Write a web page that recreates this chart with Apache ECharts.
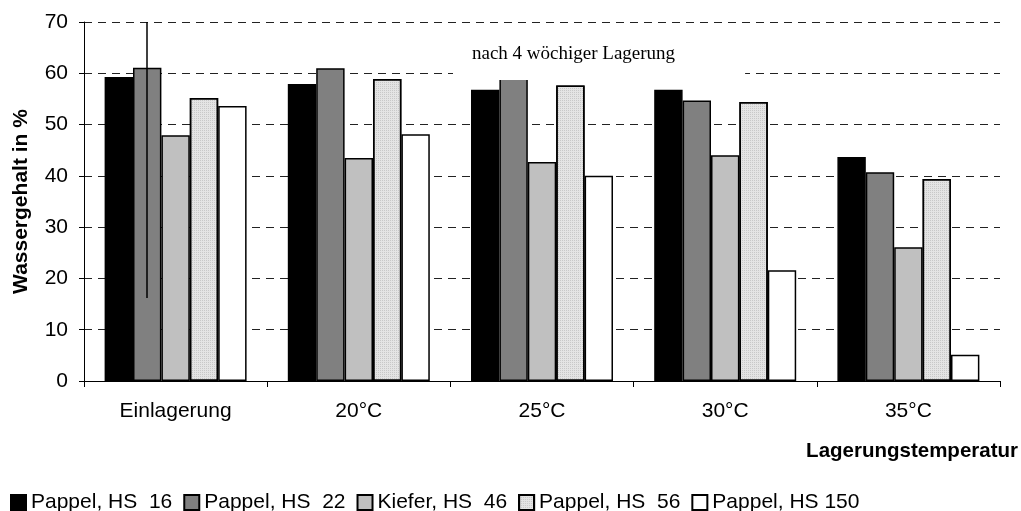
<!DOCTYPE html>
<html>
<head>
<meta charset="utf-8">
<script src="https://cdn.jsdelivr.net/npm/echarts@6/dist/echarts.min.js"></script>
<style>
    html, body { margin: 0; padding: 0; background: #fff; }
    #chart { width: 1021px; height: 511px; }
</style>
</head>
<body>
<div id="chart"></div>
<script>
    // Kategorien und Werte (Wassergehalt in %)
    let kategorien = ["Einlagerung", "20°C", "25°C", "30°C", "35°C"];
    let pappel16 = [59.3, 57.9, 56.8, 56.8, 43.7];
    let pappel22 = [61.1, 61.0, 60.0, 54.7, 40.7];
    let kiefer46 = [47.9, 43.5, 42.7, 44.0, 26.1];
    let pappel56 = [55.2, 58.9, 57.6, 54.4, 39.4];
    let pappel150 = [53.6, 48.1, 40.0, 21.6, 5.1];
    let serienNamen = ["Pappel, HS  16", "Pappel, HS  22", "Kiefer, HS  46", "Pappel, HS  56", "Pappel, HS 150"];
    let yTicks = [0, 10, 20, 30, 40, 50, 60, 70];
    // senkrechte Linie bei Einlagerung (von / bis)
    let strich = [16.2, 70];

    let farben = ["#000000", "#808080", "#c0c0c0", "#e4e4e4", "#ffffff"];
    let werte = [pappel16, pappel22, kiefer46, pappel56, pappel150];

    let series = [];
    for (let i = 0; i < werte.length; i++) {
        let s = {
            name: serienNamen[i],
            type: "bar",
            data: werte[i],
            barGap: "0%",
            barCategoryGap: "22.5%",
            itemStyle: {
                color: farben[i],
                borderColor: "#000",
                borderWidth: 1.5
            }
        };
        if (i == 3) {
            s.itemStyle.decal = {
                symbol: "rect",
                symbolSize: 1,
                dashArrayX: [1, 1],
                dashArrayY: [1, 1],
                color: "rgba(0,0,0,0.12)"
            };
        }
        if (i == 1) {
            s.markLine = {
                silent: true,
                symbol: "none",
                label: { show: false },
                lineStyle: { color: "#000", width: 1.5, type: "solid" },
                data: [[{ coord: [0, strich[0]] }, { coord: [0, strich[1]] }]]
            };
        }
        series.push(s);
    }

    let myChart = echarts.init(document.getElementById("chart"));
    let option = {
        animation: false,
        backgroundColor: "#fff",
        textStyle: { fontFamily: "Liberation Sans, Arial, sans-serif", color: "#000" },
        title: {
            text: "nach 4 wöchiger Lagerung",
            left: 453,
            top: 26,
            padding: [19, 70, 16, 19],
            backgroundColor: "#fff",
            textStyle: {
                fontFamily: "Liberation Serif, Times New Roman, serif",
                fontSize: 19,
                fontWeight: "normal",
                color: "#000"
            }
        },
        grid: { left: 84, right: 20, top: 22, bottom: 130 },
        legend: {
            left: 5,
            top: 487,
            icon: "rect",
            itemWidth: 15,
            itemHeight: 15,
            itemGap: 11,
            textStyle: {
                fontSize: 21,
                color: "#000"
            },
            data: serienNamen
        },
        xAxis: {
            type: "category",
            data: kategorien,
            name: "Lagerungstemperatur",
            nameLocation: "end",
            nameGap: 18,
            nameTextStyle: {
                fontSize: 20.5,
                fontWeight: "bold",
                color: "#000",
                align: "right",
                verticalAlign: "top",
                padding: [60, 0, 0, 0]
            },
            axisLine: { lineStyle: { color: "#000", width: 1 } },
            axisTick: { show: true, length: 6, interval: 0, lineStyle: { color: "#000" } },
            axisLabel: { fontSize: 21, color: "#000", margin: 20 },
            splitLine: { show: false }
        },
        yAxis: {
            type: "value",
            min: yTicks[0],
            max: yTicks[yTicks.length - 1],
            interval: 10,
            name: "Wassergehalt in %",
            nameLocation: "middle",
            nameGap: 52,
            nameTextStyle: { fontSize: 21, fontWeight: "bold", color: "#000" },
            axisLine: { show: true, lineStyle: { color: "#000", width: 1 } },
            axisTick: { show: true, length: 5, lineStyle: { color: "#000" } },
            axisLabel: { fontSize: 21, color: "#000", margin: 16 },
            splitLine: { show: true, lineStyle: { color: "#222", width: 1, type: [8, 6] } }
        },
        series: series
    };
    myChart.setOption(option);
</script>
</body>
</html>
